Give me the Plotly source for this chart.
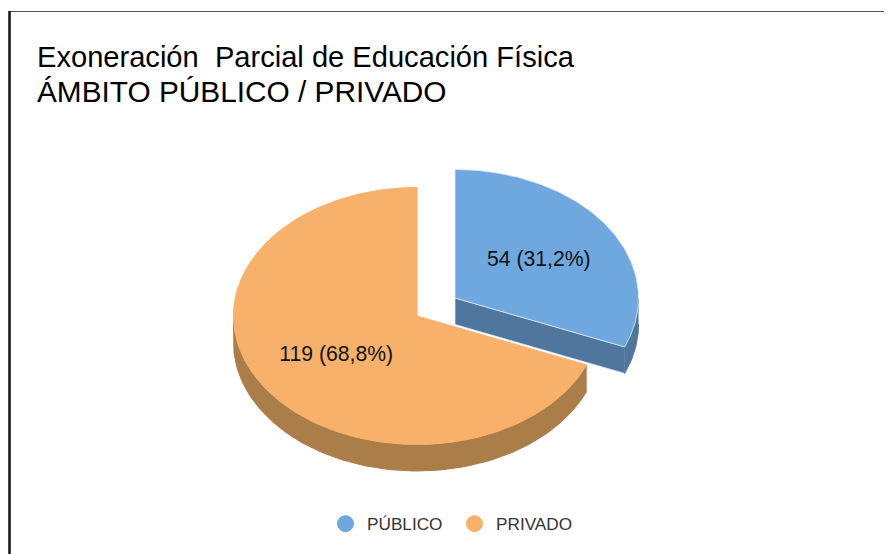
import math
import numpy as np
import plotly.graph_objects as go

# ---- data ----
categories = ["PÚBLICO", "PRIVADO"]
values = [54, 119]

# ---- styling ----
top_colors = ["#6FA8DE", "#F8B16B"]
side_colors = ["#4F769D", "#AB7D49"]
title_lines = ["Exoneración  Parcial de Educación Física", "ÁMBITO PÚBLICO / PRIVADO"]
W, H = 892, 554
PAGE_MARGIN = 8  # the page body offsets the figure by this many pixels
centers = [(455, 298), (417, 316)]
RX, RY, DEPTH = 183.5, 128.5, 26.5
label_r = [0.55, 0.53]
LABEL_DY = 2


def ell(c, deg):
    t = np.radians(deg)
    return c[0] + RX * np.sin(t), c[1] - RY * np.cos(t)


total = sum(values)
edges = [0]
for v in values:
    edges.append(edges[-1] + 360 * v / total)

fig = go.Figure()


def poly(x, y, color, line=None):
    fig.add_trace(go.Scatter(
        x=list(x), y=list(y), mode="lines", fill="toself", fillcolor=color,
        line=dict(color=line or color, width=1), hoverinfo="skip", showlegend=False))


# orange slice (back piece)
c = centers[1]
a0, a1 = edges[1], edges[2]
rim = np.linspace(a0, 270, 120)
rx, ry = ell(c, rim)
poly(np.r_[rx, rx[::-1]], np.r_[ry, ry[::-1] + DEPTH], side_colors[1])
tp = np.linspace(a0, a1, 200)
tx, ty = ell(c, tp)
poly(np.r_[c[0], tx, c[0]], np.r_[c[1], ty, c[1]], top_colors[1])

# blue slice (exploded piece)
c = centers[0]
a0, a1 = edges[0], edges[1]
edge_light = "rgba(225,235,245,0.75)"
ex, ey = ell(c, a1)
poly([c[0], ex, ex, c[0], c[0]], [c[1], ey, ey + DEPTH, c[1] + DEPTH, c[1]], side_colors[0], edge_light)
rim = np.linspace(90, a1, 30)
rx, ry = ell(c, rim)
poly(np.r_[rx, rx[::-1]], np.r_[ry, ry[::-1] + DEPTH], side_colors[0])
tp = np.linspace(a0, a1, 120)
tx, ty = ell(c, tp)
poly(np.r_[c[0], tx, c[0]], np.r_[c[1], ty, c[1]], top_colors[0], edge_light)

# data labels
lx, ly, lt = [], [], []
for i, v in enumerate(values):
    mid = (edges[i] + edges[i + 1]) / 2
    t = math.radians(mid)
    lx.append(centers[i][0] + label_r[i] * RX * math.sin(t))
    ly.append(centers[i][1] - label_r[i] * RY * math.cos(t) + LABEL_DY)
    lt.append(f"{v} ({100 * v / total:.1f}%)".replace(".", ","))
fig.add_trace(go.Scatter(
    x=lx, y=ly, text=lt, mode="text", textposition="middle center",
    textfont=dict(family="Liberation Sans", size=21.2, color="#111111"),
    hoverinfo="skip", showlegend=False))

# legend entries
for name, col in zip(categories, top_colors):
    fig.add_trace(go.Scatter(
        x=[None], y=[None], mode="markers", name=name,
        marker=dict(symbol="circle", size=16, color=col, line=dict(color=col, width=1))))

fig.update_layout(
    width=W - PAGE_MARGIN, height=H - PAGE_MARGIN, margin=dict(l=0, r=0, t=0, b=0),
    paper_bgcolor="white", plot_bgcolor="white",
    xaxis=dict(range=[PAGE_MARGIN, W], visible=False, fixedrange=True),
    yaxis=dict(range=[H, PAGE_MARGIN], visible=False, fixedrange=True),
    showlegend=True,
    legend=dict(orientation="h", x=0.5034, xanchor="center", y=0.055, yanchor="middle",
                font=dict(family="Liberation Sans", size=17.2, color="#333333"),
                bgcolor="rgba(0,0,0,0)", traceorder="normal",
                itemwidth=33, entrywidth=81, entrywidthmode="pixels"),
    shapes=[
        dict(type="line", xref="x", yref="y", x0=9, x1=W, y0=11.5, y1=11.5,
             line=dict(color="#555555", width=1)),
        dict(type="line", xref="x", yref="y", x0=9.5, x1=9.5, y0=11, y1=H,
             line=dict(color="#111111", width=2.5)),
    ],
    annotations=[
        dict(xref="x", yref="y", x=35, y=57, text=title_lines[0], showarrow=False, xanchor="left", yanchor="middle",
             font=dict(family="Liberation Sans", size=29.1, color="#000000")),
        dict(xref="x", yref="y", x=35, y=91, text=title_lines[1], showarrow=False, xanchor="left", yanchor="middle",
             font=dict(family="Liberation Sans", size=29.8, color="#000000")),
    ],
)
fig.write_html("out.html")
